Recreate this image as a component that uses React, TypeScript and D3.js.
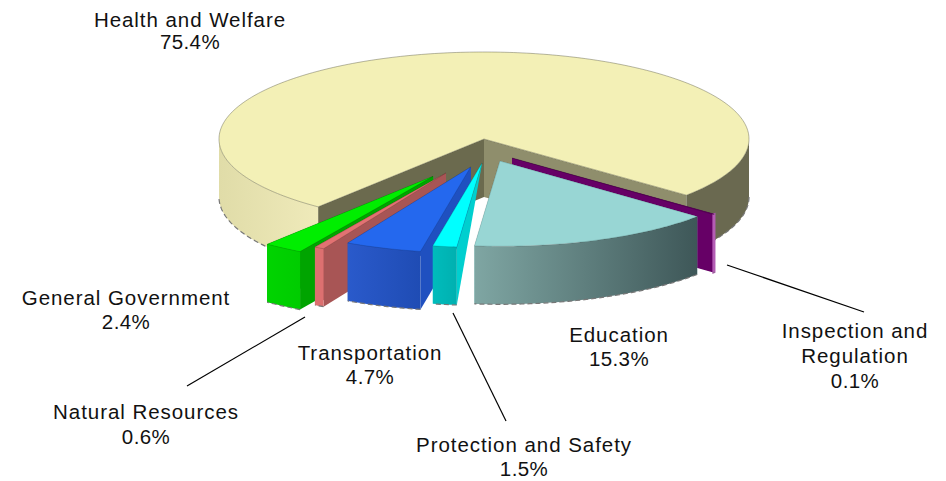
import React from 'react';
import * as d3 from 'd3';

const sliceNames = ['Inspection and Regulation', 'Education', 'Protection and Safety', 'Transportation', 'Natural Resources', 'General Government', 'Health and Welfare'];
const sliceValues = [0.1, 15.3, 1.5, 4.7, 0.6, 2.4, 75.4];
const valueLabels = ['0.1%', '15.3%', '1.5%', '4.7%', '0.6%', '2.4%', '75.4%'];

// how far each slice is pulled out, as a share of the radius (x and y differ)
const explodeX = [0.139, 0.161, 0.05, 0.15, 0.296, 0.34, 0];
const explodeY = [0.336, 0.273, 0.279, 0.34, 0.447, 0.52, 0];
const sliceRadius = [1, 0.98, 0.97, 0.99, 0.985, 1, 1];
// the protection slice's cut face tapers to nothing at the apex
const apexDepth = [1, 1, 0, 1, 1, 1, 1];
const topColors = ['#660066', '#98d6d4', '#00ffff', '#2468ee', '#e27272', '#00ee00', '#f3f0b6'];
const cutColors = ['#660066', '#98d6d4', '#00cfcf', '#1f50c0', '#a85555', '#00a400', '#8f8e6c'];
const wallColors = [['#b45cb4', '#b45cb4'], ['#7fa6a3', '#3e5758'], ['#00bcbc', '#00b0b0'], ['#2a5acb', '#1f4cb4'], ['#dd7070', '#dd7070'], ['#00d400', '#00cc00'], ['#e0dca8', '#efeaba']];
const paintOrder = [6, 0, 1, 5, 4, 3, 2];

const labelLines = [
  { slice: 6, lines: ['Health and Welfare'], x: 190, y: 27, gap: 22 },
  { slice: 5, lines: ['General Government'], x: 126, y: 305, gap: 24 },
  { slice: 3, lines: ['Transportation'], x: 370, y: 360, gap: 24 },
  { slice: 4, lines: ['Natural Resources'], x: 146, y: 419, gap: 25 },
  { slice: 2, lines: ['Protection and Safety'], x: 524, y: 452, gap: 24 },
  { slice: 1, lines: ['Education'], x: 619, y: 342, gap: 24 },
  { slice: 0, lines: ['Inspection and', 'Regulation'], x: 855, y: 338, gap: 25 },
];
const leaders = [
  [[305, 317], [187, 386]],
  [[453, 313], [506, 421]],
  [[727, 265], [864, 312]],
];

const width = 946;
const height = 481;
const cx = 484;
const cy = 139;
const rx = 265;
const ry = 87;
const depth = 58;
const startDeg = 130.2;

const xs = d3.scaleLinear().domain([-1, 1]).range([cx - rx, cx + rx]);
const ys = d3.scaleLinear().domain([-1, 1]).range([cy - ry, cy + ry]);

const pie = d3.pie<number>().sort(null)
  .startAngle((startDeg * Math.PI) / 180)
  .endAngle((startDeg * Math.PI) / 180 + 2 * Math.PI);

const line = d3.line();
const area = d3.area<number[]>().x(d => d[0]).y0(d => d[1]).y1(d => d[1] + depth);

function sample(a0: number, a1: number) {
  const n = Math.max(2, Math.ceil((a1 - a0) * 60));
  return d3.range(n + 1).map(i => a0 + ((a1 - a0) * i) / n);
}

// front-facing part of the rim only
function frontSpans(a0: number, a1: number) {
  const spans: number[][] = [];
  [0, 2 * Math.PI].forEach(shift => {
    const lo = Math.max(a0, Math.PI / 2 + shift);
    const hi = Math.min(a1, (3 * Math.PI) / 2 + shift);
    if (hi > lo) spans.push([lo, hi]);
  });
  return spans;
}

const Slice = ({ arc, i }: { arc: d3.PieArcDatum<number>; i: number }) => {
  const mid = (arc.startAngle + arc.endAngle) / 2;
  const ox = explodeX[i] * Math.sin(mid);
  const oy = -explodeY[i] * Math.cos(mid);
  const r = sliceRadius[i];
  const pt = (a: number): [number, number] => [xs(ox + r * Math.sin(a)), ys(oy - r * Math.cos(a))];
  const apex: [number, number] = [xs(ox), ys(oy)];

  const cut = (a: number) => {
    const p = pt(a);
    return line([apex, p, [p[0], p[1] + depth], [apex[0], apex[1] + depth * apexDepth[i]]]) + 'Z';
  };
  const top = line([apex, ...sample(arc.startAngle, arc.endAngle).map(pt)]) + 'Z';
  const edge = i === 6 ? '#55553f' : '#00000055';

  return (
    <g>
      <path d={cut(arc.endAngle)} fill={cutColors[i]} />
      <path d={cut(arc.startAngle)} fill={i === 6 ? '#6b6a4e' : cutColors[i]} />
      {frontSpans(arc.startAngle, arc.endAngle).map((s, k) => {
        const rim = sample(s[0], s[1]).map(pt);
        return (
          <g key={k}>
            <path
              d={area(rim) as string}
              fill={i === 6 && s[0] > 2 * Math.PI ? '#6a6950' : `url(#wall${i})`}
              stroke={i === 0 ? '#b45cb4' : 'none'}
              strokeWidth={i === 0 ? 2 : 0}
            />
            <path
              d={line(rim.map(p => [p[0], p[1] + depth] as [number, number])) as string}
              fill="none"
              stroke="#777"
              strokeWidth={1.2}
              strokeDasharray="5 3"
            />
          </g>
        );
      })}
      <path d={top} fill={topColors[i]} stroke={edge} strokeWidth={0.7} strokeOpacity={0.6} />
    </g>
  );
};

export default function App() {
  const arcs = pie(sliceValues);
  return (
    <svg width={width} height={height} style={{ position: 'absolute', left: 0, top: 0 }} fontFamily="'Liberation Sans', Arial, sans-serif" fontSize={20.5}>
      <defs>
        {wallColors.map((c, i) => (
          <linearGradient key={i} id={`wall${i}`} x1="0" x2="1" y1="0" y2="0">
            <stop offset="0" stopColor={c[0]} />
            <stop offset="1" stopColor={c[1]} />
          </linearGradient>
        ))}
      </defs>
      {paintOrder.map(i => <Slice key={i} arc={arcs[i]} i={i} />)}
      {leaders.map((l, i) => (
        <path key={i} d={line(l as [number, number][]) as string} stroke="#000" strokeWidth={1.2} fill="none" />
      ))}
      {labelLines.map(l => (
        <text key={l.slice} x={l.x} y={l.y} textAnchor="middle" fill="#111">
          {l.lines.map((t, k) => <tspan key={k} x={l.x} dy={k === 0 ? 0 : l.gap} letterSpacing={0.95}>{t}</tspan>)}
          <tspan x={l.x} dy={l.gap} letterSpacing={0.4}>{valueLabels[l.slice]}</tspan>
        </text>
      ))}
    </svg>
  );
}
